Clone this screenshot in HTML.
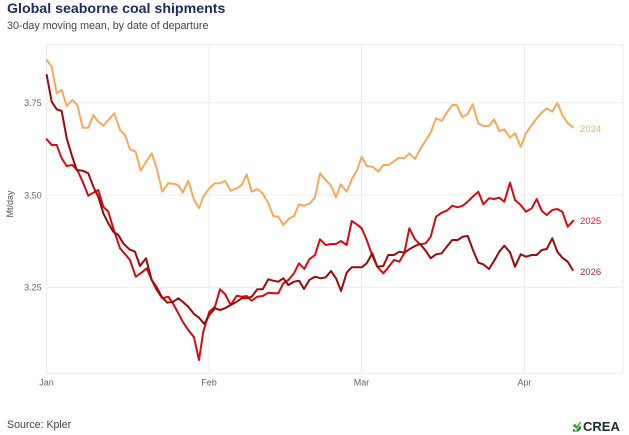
<!DOCTYPE html>
<html>
<head>
<meta charset="utf-8">
<style>
  html, body { margin: 0; padding: 0; background: #ffffff; }
  body { width: 629px; height: 435px; overflow: hidden; }
  svg { display: block; }
  text { font-family: "Liberation Sans", "DejaVu Sans", sans-serif; }
</style>
</head>
<body>
<svg width="629" height="435" viewBox="0 0 629 435" xmlns="http://www.w3.org/2000/svg">
  <rect x="0" y="0" width="629" height="435" fill="#ffffff"/>

  <!-- Title & subtitle -->
  <text x="7" y="13" font-size="14.2" font-weight="bold" fill="#1c2b5e">Global seaborne coal shipments</text>
  <text x="7" y="28.8" font-size="10.7" fill="#444444">30-day moving mean, by date of departure</text>

  <!-- Plot panel / grid -->
  <g stroke="#ececec" stroke-width="1" fill="none">
    <rect x="46.5" y="44.7" width="576.5" height="328.6"/>
    <line x1="46.5" y1="102.7" x2="623" y2="102.7"/>
    <line x1="46.5" y1="195" x2="623" y2="195"/>
    <line x1="46.5" y1="287.3" x2="623" y2="287.3"/>
    <line x1="209" y1="44.7" x2="209" y2="373.3"/>
    <line x1="361.5" y1="44.7" x2="361.5" y2="373.3"/>
    <line x1="524.5" y1="44.7" x2="524.5" y2="373.3"/>
  </g>

  <!-- Y tick labels -->
  <g font-size="9" fill="#666666" text-anchor="end">
    <text x="41.7" y="106">3.75</text>
    <text x="41.7" y="198.3">3.50</text>
    <text x="41.7" y="290.6">3.25</text>
  </g>
  <text transform="translate(13,204) rotate(-90)" font-size="9" fill="#555555" text-anchor="middle">Mt/day</text>

  <!-- X tick labels -->
  <g font-size="9" fill="#666666" text-anchor="middle">
    <text x="46.5" y="385.5">Jan</text>
    <text x="209" y="385.5">Feb</text>
    <text x="361.5" y="385.5">Mar</text>
    <text x="524.5" y="385.5">Apr</text>
  </g>

  <!-- 2024 -->
  <polyline fill="none" stroke="#f7a95a" stroke-width="2" stroke-linejoin="round" stroke-linecap="round"
    points="46.7,60 51.7,66.7 56.7,93.3 61.7,90 66.7,106 72.3,100 77.3,105 82.7,127.7 88.3,127.7 93.3,115 98.3,121.7 103.3,125.7 108.8,119.5 114.3,113.3 120,130 125,135 130,149.3 135.7,151.7 140.7,170.7 146,162 151.7,153.3 156.7,168.3 162.3,191.7 168.3,183.3 175,184 178.5,185.5 182.7,192.7 188.3,180.7 194,200 199,208.3 203.3,196.7 209.3,188.3 215,183.3 220,183.3 225,180.7 230.7,190.7 236.7,188.3 241.7,185 246.7,174.3 251.7,191.7 257.3,189 262.7,193.3 268.3,203.3 273.3,216 278.3,216.7 283.3,225 288.3,219.3 294,216 299,204.3 304.3,205.7 310,203.3 315,197.3 320,173.3 325,179.3 330.7,185 336,197.3 340.7,184.3 346.7,191.7 351.7,179.3 356.7,171 361.7,156.7 366.7,166 372.7,166.7 378.3,171.7 383.3,165 388.3,165 393.3,161.7 399,157.7 404.3,158.3 409.3,153.3 415,159 420.7,148.3 426,140 430.7,132.5 436,118.3 441.7,121 446.7,112.7 452.3,105 456.7,105 462.3,117.3 467.7,114 472.7,104.3 478.3,123.3 483.3,126 489,126 494,119.3 499.3,131 504.3,129.3 510,137.7 515,133.3 520.7,146.7 526,133.3 531.7,125 536.7,118.3 541.7,112.7 546.7,108.3 552.3,111.7 557.3,102.7 562.3,115 567.3,122.7 572.7,127.3"/>

  <!-- 2025 -->
  <polyline fill="none" stroke="#d40b12" stroke-width="2" stroke-linejoin="round" stroke-linecap="round"
    points="46.7,139.3 51.7,145 56.7,145 61.7,158.3 66.7,166 72.3,165 77.3,170 82.7,181.7 88.3,195.7 93.3,192.7 98.3,190 103.3,206.7 108.3,211.7 113.3,228.3 120,248.3 125,254 130,260 135.7,276.7 140.7,273.3 146.7,268.3 151.7,280 156.7,290 162.3,298.3 168.3,296.7 173.3,304 178.3,313.3 183.3,322.7 188.3,330 194,337.3 199,360 203.3,331.7 209.3,311.7 215,306.7 220,289.3 225,294 230.7,305 236.7,295.7 241.7,296.7 246.7,296 251.7,300.7 257.3,296.7 262.7,296 268.3,292.7 273.3,293.3 278.3,293.3 283.3,283.3 288.3,280 294,273.3 299,263.3 304.3,269 309.3,259.3 315,255 320,239.3 325.7,245 331,244 336,244 341,241 346.7,245 351.7,221 356.7,224.3 361.7,228.3 366.7,240 371.7,254 377.3,266.7 383.3,273.3 388.3,267.3 394,260 399.3,261.7 404.3,253.3 409.3,228.3 415,239.3 420,244.3 425.7,243.3 430.7,236.7 436,216.7 441.7,212.7 446.7,210.7 452.3,205.7 457.3,207.3 462.3,206 467.7,201.7 472.7,196.7 478.3,191.7 483.3,204.3 489,198.3 494,199 499.3,197.7 504.3,201.7 510,182.7 515,200 520.7,205 526,211.7 531.7,208.3 536.7,199 541.7,210.7 546.7,215 552.3,210 557.3,209 562.3,211.7 567.7,226.7 573.3,220.7"/>

  <!-- 2026 -->
  <polyline fill="none" stroke="#990a0a" stroke-width="2" stroke-linejoin="round" stroke-linecap="round"
    points="46.7,75 51.7,101.7 56.7,109.3 61.7,111 66.7,138.3 71.7,155 76.7,170 82.7,170.7 88.3,173.3 93.3,186.7 98.3,196.7 103.3,213.3 108.3,223.3 113.3,231.7 118.3,235 123.3,243.3 129.3,249.3 135,251.7 140,266 146,258.3 151.7,280 156.7,287.3 161.7,296.7 167.3,302.7 173.3,301.7 178.3,298.3 182.7,301.7 188.3,306.7 194,314 199,317.7 204.3,324 209.3,315 215,308.3 220,310 225,308.3 230.7,305 236.7,301.7 241.7,298.3 246.7,298.3 251.7,296.7 257.3,289.3 262.7,289.3 268.3,279.3 273.3,280.7 278.3,281.7 283.3,278.3 288.3,285 294,281.7 299,280.7 304,289 309.3,280 315,276.7 320.7,278.3 325.7,277.3 331,271 336,278.3 341,291 346.7,272.7 351.7,267.3 356.7,267.3 361.7,267.3 366.7,263.3 372.3,253.3 377.3,266.7 383.3,266 388.3,255 394,255 399.3,251.7 404.3,252.7 409.3,249.3 415,246 420,244 425.7,250.7 430.7,258.3 436,254.3 441.7,253.3 446.7,246.7 452.3,240 457.7,240 462.7,236.7 467.7,236 472.7,249.3 478.3,262.7 483.3,264.3 489,269 494,261 499.3,251.7 504.3,245.7 510,252.3 515,266.7 520.7,254.3 526,256.7 531.7,255 536.7,255 541.7,250 546.7,249 552.3,238.3 557.3,251.7 562.3,257.7 567.7,261.7 572.7,270"/>

  <!-- Series labels -->
  <g font-size="9.5">
    <text x="580" y="132" fill="#f5ac68">2024</text>
    <text x="580" y="224" fill="#d4202a">2025</text>
    <text x="580" y="275" fill="#a02a30">2026</text>
  </g>

  <!-- Footer -->
  <text x="7" y="428" font-size="10.6" fill="#444444">Source: Kpler</text>

  <!-- CREA logo -->
  <g transform="translate(572,421)">
    <path d="M0.5,5 L3,2.5 L5,5 L8,0.5 L9,1.5 L5,8 Z" fill="#3aa935"/>
    <path d="M1,7.5 L4,10 L8.5,4 L9,8 L6,10.5 L1,10.5 Z" fill="#2a7a2a"/>
  </g>
  <text x="583" y="431" font-size="13" font-weight="bold" fill="#1e2a36">CREA</text>
</svg>
</body>
</html>
